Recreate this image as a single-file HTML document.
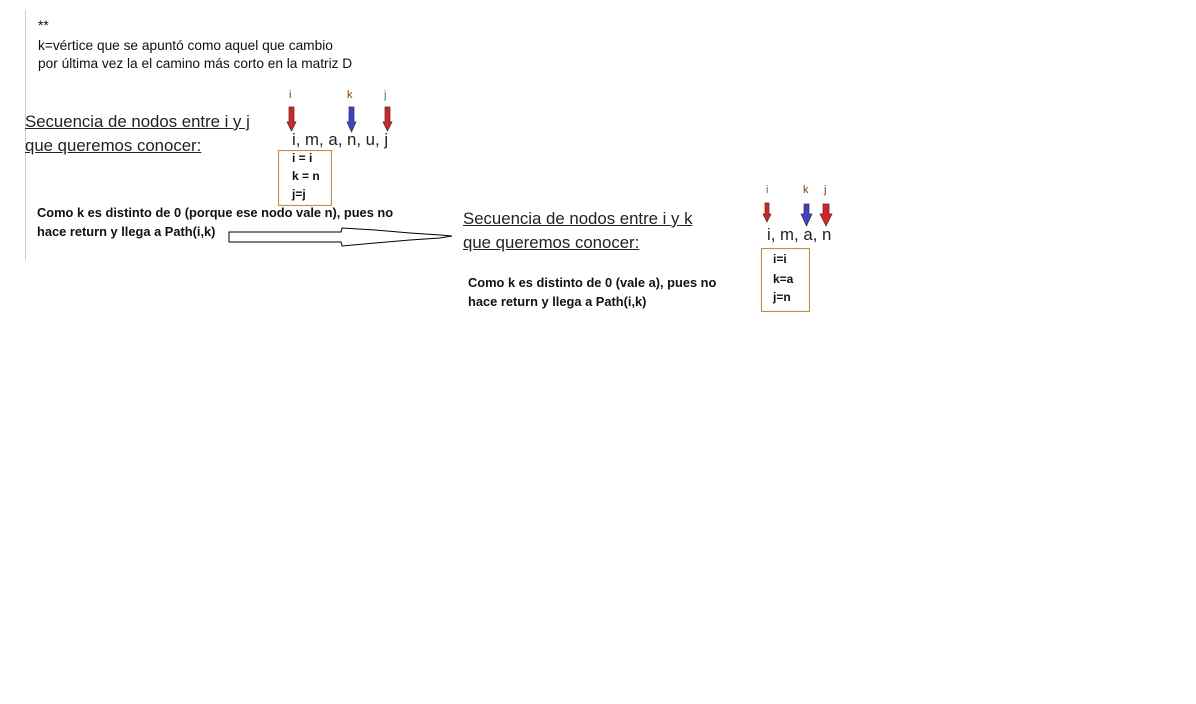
<!DOCTYPE html>
<html><head><meta charset="utf-8"><style>
body{margin:0;width:1196px;height:704px;background:#fff;position:relative;overflow:hidden;font-family:"Liberation Sans",sans-serif;color:#111}
.t{position:absolute;white-space:nowrap;line-height:1}
.s{font-size:13.7px}
.h{font-size:16.8px;text-decoration:underline;color:#222}
.b{font-size:12px;font-weight:bold}
.bb{font-size:12.85px;font-weight:bold}
.l{font-size:11px}
.box{position:absolute;border:1px solid #ed7d31}
</style></head><body>
<div style="position:absolute;left:25px;top:10px;width:1px;height:250px;background:#ccc"></div>
<div class="t s" style="left:38px;top:19px">**</div>
<div class="t s" style="left:38px;top:39px">k=vértice que se apuntó como aquel que cambio</div>
<div class="t s" style="left:38px;top:57px">por última vez la el camino más corto en la matriz D</div>

<div class="t h" style="left:25px;top:114px">Secuencia de nodos entre i y j</div>
<div class="t h" style="left:25px;top:138px">que queremos conocer:</div>

<div class="t l" style="left:289px;top:90px;color:#843c0c">i</div>
<div class="t l" style="left:347px;top:90px;color:#843c0c">k</div>
<div class="t l" style="left:384px;top:90px;color:#2e75b6">j</div>

<svg width="1196" height="704" style="position:absolute;left:0;top:0">
<g><polygon points="289,107 294,107 294,122 296,122 291.5,131 287,122 289,122" fill="#e02020" stroke="#333" stroke-width="0.7"/></g>
<g><polygon points="349,107 354,107 354,122 356,122 351.5,132 347,122 349,122" fill="#4040d0" stroke="#333" stroke-width="0.7"/></g>
<g><polygon points="385,107 390,107 390,122 392,122 387.5,131 383,122 385,122" fill="#e02020" stroke="#333" stroke-width="0.7"/></g>
<g><polygon points="765,203 769,203 769,214 771,214 767,222 763,214 765,214" fill="#e02020" stroke="#333" stroke-width="0.7"/></g>
<g><polygon points="804,204 809,204 809,214 812,214 806.5,226 801,214 804,214" fill="#4040d0" stroke="#333" stroke-width="0.7"/></g>
<g><polygon points="823,204 829,204 829,214 832,214 826,226 820,214 823,214" fill="#e02020" stroke="#333" stroke-width="0.7"/></g>
<g><polygon points="229,232 341,232 342,228 375,230 410,233 440,235 452,236 440,238 410,240 375,243 342,246 341,242 229,242" fill="#fff" stroke="#000" stroke-width="1"/></g>
</svg>

<div class="t h" style="left:292px;top:132px;text-decoration:none">i, m, a, n, u, j</div>
<div class="box" style="left:278px;top:150px;width:52px;height:54px"></div>
<div class="t b" style="left:292px;top:152px">i = i</div>
<div class="t b" style="left:292px;top:170px">k = n</div>
<div class="t b" style="left:292px;top:188px">j=j</div>

<div class="t bb" style="left:37px;top:207px">Como k es distinto de 0 (porque ese nodo vale n), pues no</div>
<div class="t bb" style="left:37px;top:226px">hace return y llega a Path(i,k)</div>

<div class="t h" style="left:463px;top:211px">Secuencia de nodos entre i y k</div>
<div class="t h" style="left:463px;top:235px">que queremos conocer:</div>
<div class="t bb" style="left:468px;top:277px">Como k es distinto de 0 (vale a), pues no</div>
<div class="t bb" style="left:468px;top:296px">hace return y llega a Path(i,k)</div>

<div class="t l" style="left:766px;top:185px;color:#2e75b6">i</div>
<div class="t l" style="left:803px;top:185px;color:#843c0c">k</div>
<div class="t l" style="left:824px;top:185px;color:#843c0c">j</div>
<div class="t h" style="left:767px;top:227px;text-decoration:none">i, m, a, n</div>
<div class="box" style="left:761px;top:248px;width:47px;height:62px"></div>
<div class="t b" style="left:773px;top:253px">i=i</div>
<div class="t b" style="left:773px;top:273px">k=a</div>
<div class="t b" style="left:773px;top:291px">j=n</div>
</body></html>
